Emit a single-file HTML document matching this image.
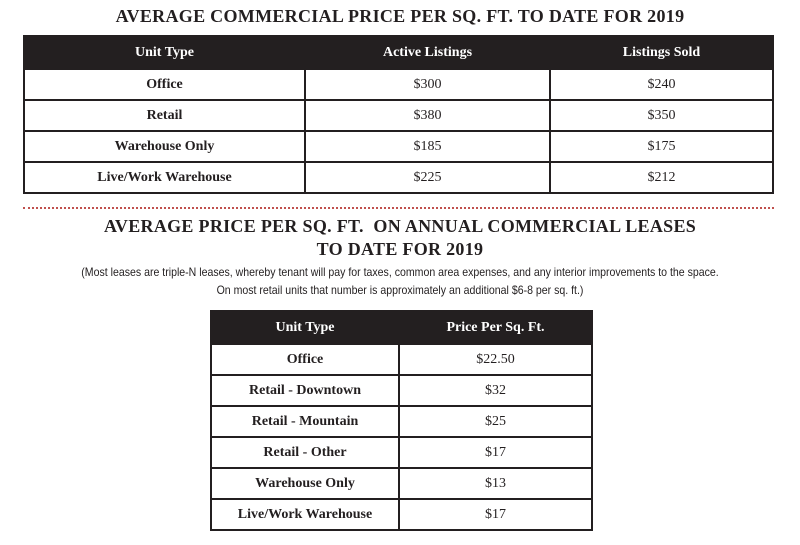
<!DOCTYPE html>
<html><head><style>
body{margin:0;width:800px;height:545px;background:#fff;position:relative;font-family:"Liberation Serif",serif;color:#231f20;overflow:hidden}
.t{position:absolute;left:0;width:800px;text-align:center;font-weight:bold;font-size:18px;letter-spacing:0.3px}
.n{position:absolute;left:0;width:800px;text-align:center;font-family:"Liberation Sans",sans-serif;font-size:12px;transform:scaleX(0.88);color:#231f20}
table{position:absolute;border-collapse:collapse;font-size:14px}
td,th{border:2px solid #231f20;text-align:center;padding:0;height:29px}
th{background:#231f20;color:#fff;font-weight:bold;height:31px}
td:first-child{font-weight:bold}
</style></head><body>
<div class="t" style="top:6px">AVERAGE COMMERCIAL PRICE PER SQ. FT. TO DATE FOR 2019</div>
<table style="left:23px;top:35px;width:751px">
<tr><th style="width:279px">Unit Type</th><th style="width:243px">Active Listings</th><th>Listings Sold</th></tr>
<tr><td>Office</td><td>$300</td><td>$240</td></tr>
<tr><td>Retail</td><td>$380</td><td>$350</td></tr>
<tr><td>Warehouse Only</td><td>$185</td><td>$175</td></tr>
<tr><td>Live/Work Warehouse</td><td>$225</td><td>$212</td></tr>
</table>
<div style="position:absolute;left:23px;top:207px;width:751px;border-top:2px dotted #c0504d"></div>
<div class="t" style="top:215px;line-height:23px">AVERAGE PRICE PER SQ. FT.&nbsp; ON ANNUAL COMMERCIAL LEASES<br>TO DATE FOR 2019</div>
<div class="n" style="top:265px">(Most leases are triple-N leases, whereby tenant will pay for taxes, common area expenses, and any interior improvements to the space.</div>
<div class="n" style="top:283px">On most retail units that number is approximately an additional $6-8 per sq. ft.)</div>
<table style="left:210px;top:310px;width:383px">
<tr><th style="width:186px">Unit Type</th><th>Price Per Sq. Ft.</th></tr>
<tr><td>Office</td><td>$22.50</td></tr>
<tr><td>Retail - Downtown</td><td>$32</td></tr>
<tr><td>Retail - Mountain</td><td>$25</td></tr>
<tr><td>Retail - Other</td><td>$17</td></tr>
<tr><td>Warehouse Only</td><td>$13</td></tr>
<tr><td>Live/Work Warehouse</td><td>$17</td></tr>
</table>
</body></html>
